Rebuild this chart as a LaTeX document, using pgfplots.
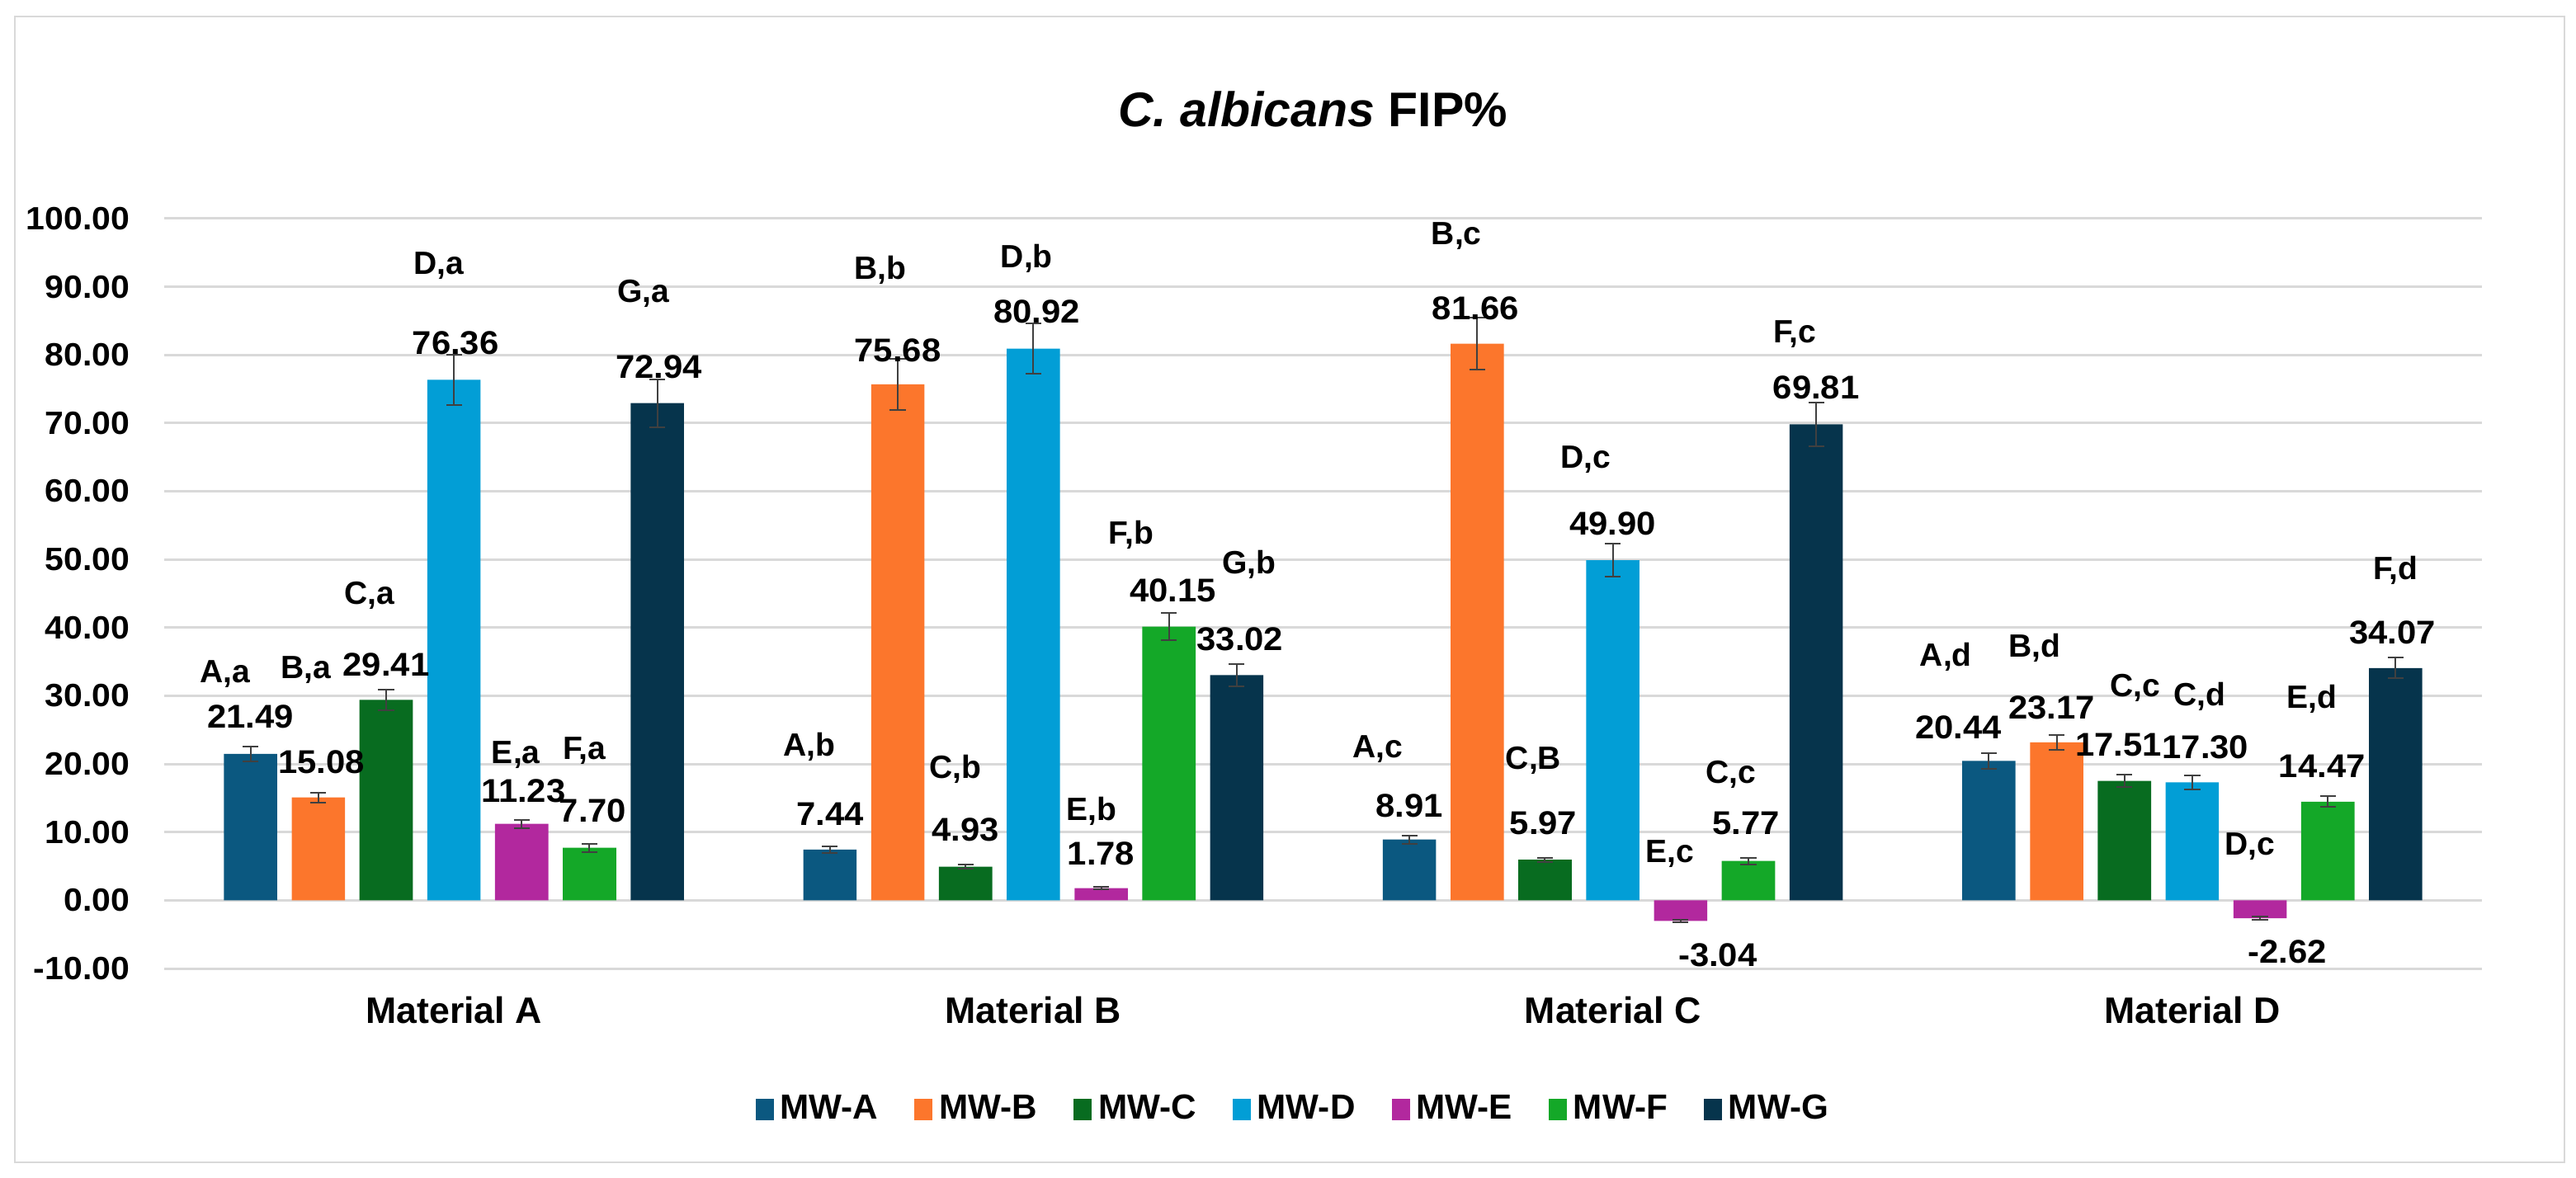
\documentclass[border=0pt]{standalone}
\usepackage{pgfplots}
\usepackage{pgfplotstable}
\usepackage{fontspec}
\setmainfont{Liberation Sans}
\newfontfamily\widefont{Liberation Sans}[FakeStretch=1.05]
\pgfplotsset{compat=1.18}

\definecolor{cA}{RGB}{11,88,128}
\definecolor{cB}{RGB}{252,118,44}
\definecolor{cC}{RGB}{8,108,32}
\definecolor{cD}{RGB}{2,158,214}
\definecolor{cE}{RGB}{178,40,158}
\definecolor{cF}{RGB}{20,168,40}
\definecolor{cG}{RGB}{6,52,76}
\definecolor{grid}{RGB}{217,217,217}

% x = material, y = FIP%, e = error, vy/ly = heights of value and letter labels,
% vdx/ldx = sideways nudge of value and letter label (px)
\pgfplotstableread{
x y e vy ly vdx ldx lab
0 21.49 1.1 26.9 33.2 0 -31 {A,a}
1 7.44 0.5 12.7 22.5 0 -25 {A,b}
2 8.91 0.6 13.9 22.2 0 -38 {A,c}
3 20.44 1.2 25.4 35.7 -37 -52 {A,d}
}\tA
\pgfplotstableread{
x y e vy ly vdx ldx lab
0 15.08 0.7 20.3 33.8 4 -15 {B,a}
1 75.68 3.7 80.7 92.5 0 -21 {B,b}
2 81.66 3.8 86.8 97.4 -2 -25 {B,c}
3 23.17 1.1 28.3 37.0 -6 -27 {B,d}
}\tB
\pgfplotstableread{
x y e vy ly vdx ldx lab
0 29.41 1.5 34.6 44.7 0 -20 {C,a}
1 4.93 0.3 10.4 19.2 0 -12 {C,b}
2 5.97 0.3 11.3 20.5 -2 -14 {C,B}
3 17.51 0.9 22.8 31.2 -7 13 {C,c}
}\tC
\pgfplotstableread{
x y e vy ly vdx ldx lab
0 76.36 3.7 81.7 93.1 2 -18 {D,a}
1 80.92 3.7 86.3 94.2 4 -8 {D,b}
2 49.90 2.4 55.2 64.7 0 -33 {D,c}
3 17.30 1.0 22.5 29.9 16 9 {C,d}
}\tD
\pgfplotstableread{
x y e vy ly vdx ldx lab
0 11.23 0.6 16.0 21.3 2 -7 {E,a}
1 1.78 0.2 6.8 13.1 0 -12 {E,b}
2 -3.04 0.2 -8.1 6.8 45 -13 {E,c}
3 -2.62 0.2 -7.6 7.9 33 -12 {D,c}
}\tE
\pgfplotstableread{
x y e vy ly vdx ldx lab
0 7.70 0.6 13.2 21.9 4 -6 {F,a}
1 40.15 2.0 45.5 53.6 5 -46 {F,b}
2 5.77 0.5 11.3 18.5 -3 -21 {C,c}
3 14.47 0.8 19.7 29.5 -7 -19 {E,d}
}\tF
\pgfplotstableread{
x y e vy ly vdx ldx lab
0 72.94 3.5 78.2 89.0 2 -17 {G,a}
1 33.02 1.6 38.3 49.3 4 15 {G,b}
2 69.81 3.2 75.2 83.0 0 -26 {F,c}
3 34.07 1.5 39.3 48.4 -4 0 {F,d}
}\tG

\newcommand\valfont{\widefont\fontsize{10}{12}\selectfont\bfseries}
\newcommand\letfont{\fontsize{9.8}{11}\selectfont\bfseries}

% #1 table, #2 colour, #3 bar shift
\newcommand\series[3]{%
  \addplot[ybar, bar width=0.092, bar shift=#3, fill=#2, draw=none]
    table[x=x, y=y] {#1};
  \addplot[forget plot, only marks, mark=text, text mark={},
    error bars/.cd, y dir=both, y explicit,
    error bar style={draw=black!75, line width=0.5bp},
    error mark options={draw=black!75, line width=0.5bp, mark size=2.4bp, rotate=90}]
    table[x expr=\thisrow{x}+#3, y=y, y error=e] {#1};
  \addplot[forget plot, only marks, mark=text, text mark={},
    point meta=\thisrow{y},
    nodes near coords={\pgfmathprintnumber[fixed, fixed zerofill, precision=2, assume math mode=true]{\pgfplotspointmeta}},
    nodes near coords style={anchor=center, font=\valfont, text=black, inner sep=0pt}]
    table[x expr=\thisrow{x}+#3+\thisrow{vdx}/702, y=vy] {#1};
  \addplot[forget plot, only marks, mark=text, text mark={},
    point meta=explicit symbolic, nodes near coords,
    nodes near coords style={anchor=center, font=\letfont, text=black, inner sep=0pt}]
    table[x expr=\thisrow{x}+#3+\thisrow{ldx}/702, y=ly, meta=lab] {#1};
}

\begin{document}
\begin{tikzpicture}
\useasboundingbox (0,0) rectangle (780.5bp,357bp);
\draw[grid, line width=0.6bp] (4.5bp,4.75bp) rectangle (777bp,352bp);
\node[font=\fontsize{14.8}{17}\selectfont\bfseries] at (397.75bp,324bp) {\textit{C. albicans} FIP\%};
\begin{axis}[
  at={(49.75bp,63.5bp)}, anchor=south west,
  scale only axis, width=702.25bp, height=227.25bp,
  xmin=-0.5, xmax=3.5, ymin=-10, ymax=100,
  xtick={0,1,2,3},
  xticklabels={Material A, Material B, Material C, Material D},
  ytick={-10,0,...,100},
  axis line style={draw=none},
  major tick length=0pt,
  ymajorgrids, grid style={draw=grid, line width=0.75bp},
  yticklabel style={font=\widefont\fontsize{9.8}{11}\selectfont\bfseries, anchor=east, inner sep=0pt, xshift=-10.25bp,
    /pgf/number format/.cd, fixed, fixed zerofill, precision=2, assume math mode=true},
  xticklabel style={font=\fontsize{11.2}{13}\selectfont\bfseries, anchor=center, inner sep=0pt, yshift=-12.75bp},
  clip=false,
  legend columns=7,
  legend style={at={(0.488,-0.188)}, anchor=center, draw=none, fill=none,
    font=\fontsize{10.6}{12}\selectfont\bfseries,
    /tikz/every even column/.append style={column sep=9bp}},
  legend image code/.code={\fill[#1] (0bp,-3.2bp) rectangle (5.5bp,3.2bp);},
]
\series{\tA}{cA}{-0.351}
\series{\tB}{cB}{-0.234}
\series{\tC}{cC}{-0.117}
\series{\tD}{cD}{0}
\series{\tE}{cE}{0.117}
\series{\tF}{cF}{0.234}
\series{\tG}{cG}{0.351}
\legend{MW-A, MW-B, MW-C, MW-D, MW-E, MW-F, MW-G}
\end{axis}
\end{tikzpicture}
\end{document}
